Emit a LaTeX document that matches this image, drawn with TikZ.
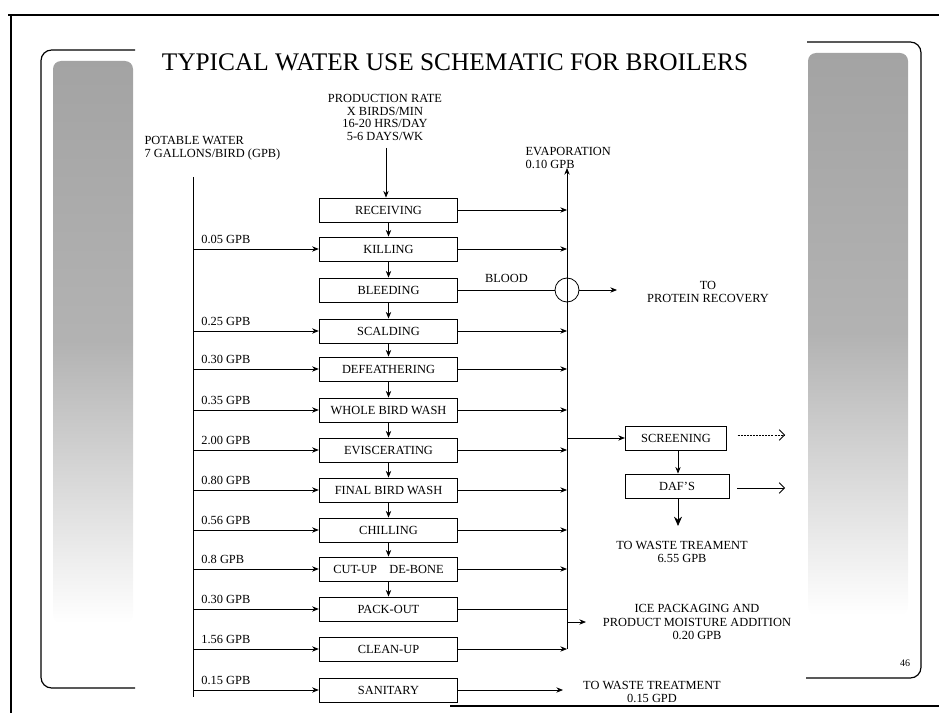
\documentclass[tikz,border=0pt]{standalone}
\usepackage{fontspec}
\setmainfont{Liberation Serif}
\usetikzlibrary{arrows.meta,positioning}

\tikzset{
  procbox/.style={draw, semithick, minimum width=104pt, minimum height=18pt, inner sep=1pt},
  flow/.style={semithick, -{Stealth[length=5pt,width=4pt]}},
  openflow/.style={semithick, -{Straight Barb[length=4pt,width=8pt]}},
  amt/.style={anchor=south west, inner sep=1pt, xshift=5pt, yshift=3pt},
  lbl/.style={align=center, inner sep=1pt},
  panel/.style={line width=0.9pt, rounded corners=8pt},
  band/.style={rounded corners=6pt, top color=black!36, bottom color=white, middle color=black!30}
}

\begin{document}
\begin{tikzpicture}[x=0.75pt, y=-0.75pt, font=\fontsize{9.3}{9.4}\selectfont]
    \useasboundingbox (0,0) rectangle (939,713);

    % page frame
    \draw[line width=1.1pt] (8,15) -- (939,15);
    \draw[line width=1.1pt] (11,15) -- (11,713);
    \draw[line width=0.8pt] (450,706) -- (939,706);

    % side panels
    \shade[band] (53,61) rectangle (133,623);
    \shade[band] (808,53) rectangle (908,615);
    \draw[panel] (135,50) -- (41,50) -- (41,688) -- (135,688);
    \draw[panel] (807,42) -- (921,42) -- (921,678) -- (806,678);
    \node[font=\fontsize{7.5}{8}\selectfont] (pageno) at (905,663) {46};

    % title
    \node[font=\fontsize{19}{22}\selectfont] (title) at (455,62) {TYPICAL WATER USE SCHEMATIC FOR BROILERS};

    % inputs
    \node[lbl, anchor=south] (prodrate) at (385,142) {PRODUCTION RATE\\X BIRDS/MIN\\16-20 HRS/DAY\\5-6 DAYS/WK};
    \node[align=left, anchor=west, inner sep=1pt] (potable) at (143,148) {POTABLE WATER\\7 GALLONS/BIRD (GPB)};
    \coordinate (sup) at (193,177);
    \coordinate (supend) at (193,697);
    \draw[semithick] (sup) -- (supend);

    % process steps
    \foreach \nm/\yy/\txt in {recv/210/RECEIVING, kill/249/KILLING, bleed/290/BLEEDING,
        scald/331/SCALDING, defeath/369/DEFEATHERING, wbwash/410/WHOLE BIRD WASH,
        evisc/450/EVISCERATING, fbwash/490/FINAL BIRD WASH, chill/530/CHILLING,
        cutup/569/CUT-UP\quad DE-BONE, pack/609/PACK-OUT, clean/649/CLEAN-UP,
        sanit/690/SANITARY}
        \node[procbox] (\nm) at (388.5,\yy) {\txt};

    \coordinate (prodin) at (386,148);
    \draw[flow] (prodin) -- (prodin |- recv.north);
    \foreach \a/\b in {recv/kill, kill/bleed, bleed/scald, scald/defeath, defeath/wbwash,
        wbwash/evisc, evisc/fbwash, fbwash/chill, chill/cutup, cutup/pack}
        \draw[flow] (\a.south) -- (\b.north);

    % potable water branches
    \foreach \nm/\q in {kill/0.05, scald/0.25, defeath/0.30, wbwash/0.35, evisc/2.00,
        fbwash/0.80, chill/0.56, cutup/0.8, pack/0.30, clean/1.56, sanit/0.15}
        \draw[flow] (sup |- \nm.west) -- (\nm.west) node[amt, pos=0] (\nm-q) {\q\ GPB};

    % collector
    \coordinate (col) at (567,168);
    \node[lbl, anchor=north west, align=left] (evaplbl) at (524,146) {EVAPORATION\\0.10 GPB};
    \foreach \nm in {recv, kill, scald, defeath, wbwash, evisc, fbwash, chill, cutup}
        \draw[flow] (\nm.east) -- (\nm.east -| col);
    \draw[semithick] (pack.east) -- (pack.east -| col);
    \draw[flow] (clean.east) -- (clean.east -| col);
    \draw[flow] (clean.east -| col) -- (col);

    % blood
    \node[draw, semithick, circle, minimum size=18pt, inner sep=0pt] (sep) at (col |- bleed.east) {};
    \draw[semithick] (bleed.east) -- (sep.west) node[midway, above=2pt] (blood) {BLOOD};
    \coordinate (prot) at (617,290);
    \draw[flow] (sep.east) -- (prot);
    \node[lbl] (protlbl) at (708,292) {TO\\PROTEIN RECOVERY};

    % screening and DAF
    \node[procbox, minimum width=76pt] (screen) at (676,438) {SCREENING};
    \node[procbox, minimum width=78pt] (daf) at (677,486) {DAF'S};
    \draw[flow] (col |- screen.west) -- (screen.west);
    \coordinate (dafout) at (678,526);
    \draw[flow] (screen.south -| dafout) -- (daf.north -| dafout);
    \draw[flow, -{Stealth[length=7pt,width=6pt]}] (daf.south -| dafout) -- (dafout);
    \node[lbl] (wastelbl) at (682,552) {TO WASTE TREAMENT\\6.55 GPB};
    \coordinate (scrout) at (785,435);
    \coordinate (dafend) at (785,488);
    \draw[openflow, dash pattern=on 1.5pt off 0.8pt] ([xshift=8pt]screen.east |- scrout) -- (scrout);
    \draw[openflow] ([xshift=6pt]daf.east |- dafend) -- (dafend);

    % product and sanitary outputs
    \coordinate (icefrom) at (567,622);
    \coordinate (iceto) at (586,622);
    \draw[flow] (icefrom) -- (iceto);
    \node[lbl, font=\fontsize{9.3}{10}\selectfont] (icelbl) at (697,622) {ICE PACKAGING AND\\PRODUCT MOISTURE ADDITION\\0.20 GPB};
    \coordinate (sanout) at (563,690);
    \draw[flow] (sanit.east) -- (sanout);
    \node[lbl] (sanlbl) at (652,692) {TO WASTE TREATMENT\\0.15 GPD};
\end{tikzpicture}
\end{document}
